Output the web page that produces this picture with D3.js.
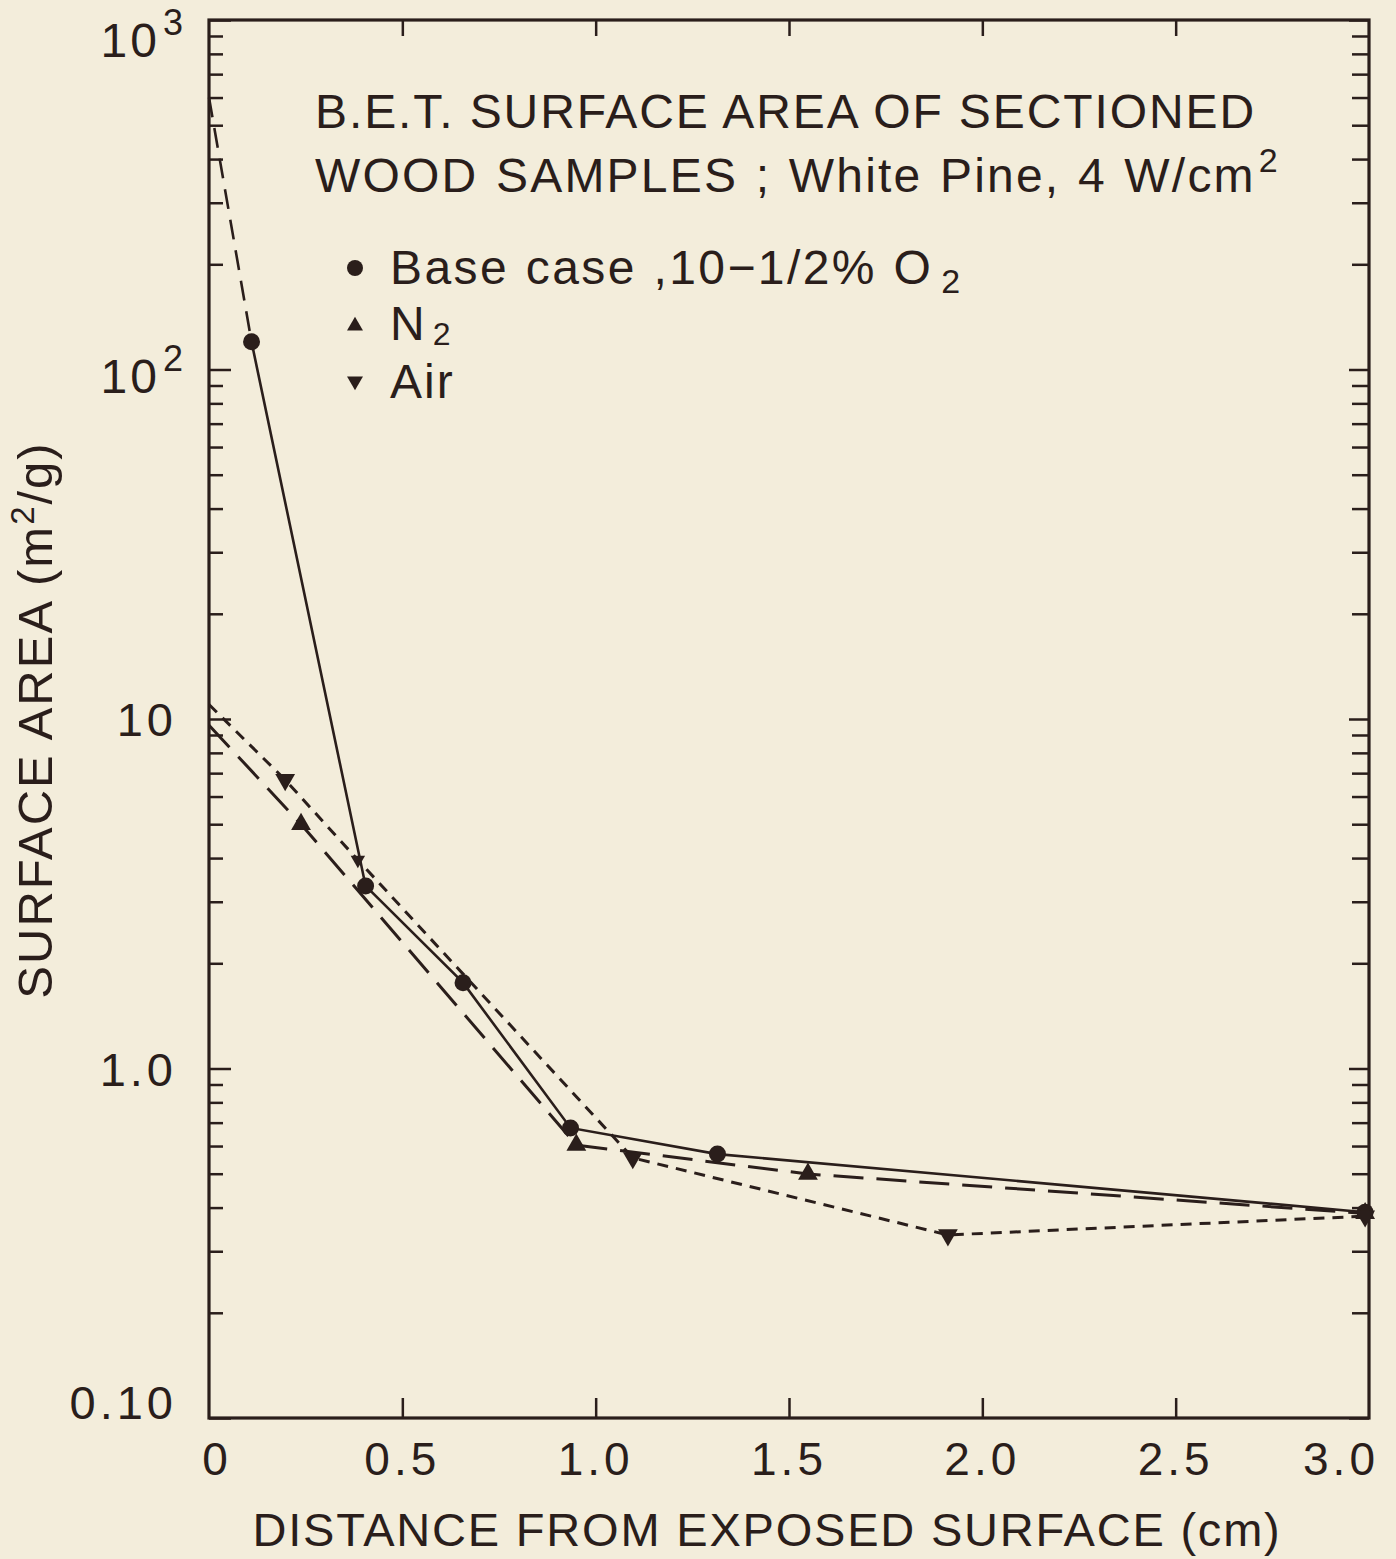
<!DOCTYPE html>
<html>
<head>
<meta charset="utf-8">
<script src="https://cdn.jsdelivr.net/npm/d3@7"></script>
<style>
html,body{margin:0;padding:0;background:#f3eddb;}
svg{display:block;}
text{font-family:"Liberation Sans",Arial,Helvetica,sans-serif;fill:#2a1e1b;}
</style>
</head>
<body>
<svg id="chart" width="1396" height="1559"></svg>
<script>
// ---------- data ----------
const baseX = [0.11, 0.405, 0.657, 0.935, 1.315, 2.99];
const baseY = [120, 3.33, 1.76, 0.676, 0.569, 0.388];
const baseSurfaceY = 600;           // dashed extrapolation to the exposed surface (x = 0)
const n2X = [0.238, 0.95, 1.549, 2.99];
const n2Y = [5.0, 0.604, 0.499, 0.385];
const n2SurfaceY = 9.6;
const airX = [0.197, 0.385, 1.096, 1.911, 2.99];
const airY = [6.7, 3.95, 0.555, 0.334, 0.378];
const airSurfaceY = 11;
const xTicks = [0, 0.5, 1.0, 1.5, 2.0, 2.5, 3.0];
const xTickLabels = ["0", "0.5", "1.0", "1.5", "2.0", "2.5", "3.0"];
const yMajor = [0.1, 1, 10, 100, 1000];
const yTickLabels = [["0.10", ""], ["1.0", ""], ["10", ""], ["10", "2"], ["10", "3"]];

// ---------- layout ----------
const ink = "#2a1e1b";
const L = 209, R = 1369, T = 20, B = 1418;
const svg = d3.select("#chart");
svg.append("rect").attr("width", 1396).attr("height", 1559).attr("fill", "#f3eddb");

const x = d3.scaleLinear().domain([0, 3]).range([L, R]);
const y = d3.scaleLog().domain([0.1, 1000]).range([B, T]);

const minor = [];
for (let e = -1; e < 3; e++) for (let k = 2; k <= 9; k++) minor.push(k * Math.pow(10, e));

const g = svg.append("g");

function styleAxis(sel) {
  sel.selectAll(".domain").remove();
  sel.selectAll("line").attr("stroke", ink).attr("stroke-width", 2.5);
  sel.selectAll("text").remove();
}
// left axis ticks (inward)
g.append("g").attr("transform", `translate(${L},0)`)
  .call(d3.axisLeft(y).tickValues(yMajor).tickSize(-22).tickFormat("")).call(styleAxis);
g.append("g").attr("transform", `translate(${L},0)`)
  .call(d3.axisLeft(y).tickValues(minor).tickSize(-14).tickFormat("")).call(styleAxis);
// right axis ticks (inward)
g.append("g").attr("transform", `translate(${R},0)`)
  .call(d3.axisRight(y).tickValues(yMajor).tickSize(-20).tickFormat("")).call(styleAxis);
g.append("g").attr("transform", `translate(${R},0)`)
  .call(d3.axisRight(y).tickValues(minor).tickSize(-17).tickFormat("")).call(styleAxis);
// top & bottom ticks (inward)
g.append("g").attr("transform", `translate(0,${T})`)
  .call(d3.axisTop(x).tickValues(xTicks.slice(1, -1)).tickSize(-16).tickFormat("")).call(styleAxis);
g.append("g").attr("transform", `translate(0,${B})`)
  .call(d3.axisBottom(x).tickValues(xTicks.slice(1, -1)).tickSize(-20).tickFormat("")).call(styleAxis);

// frame
g.append("rect").attr("x", L).attr("y", T).attr("width", R - L).attr("height", B - T)
  .attr("fill", "none").attr("stroke", ink).attr("stroke-width", 3.2);

// x tick labels
const xl = g.append("g");
xTicks.forEach((v, i) => {
  let dx = 0;
  if (i === 0) dx = 8;
  if (i === xTicks.length - 1) dx = -28;
  xl.append("text").attr("x", x(v) + dx).attr("y", 1475)
    .attr("text-anchor", "middle").attr("font-size", 46).attr("letter-spacing", 4)
    .text(xTickLabels[i]);
});

// y tick labels
yMajor.forEach((v, i) => {
  const [main, sup] = yTickLabels[i];
  let cy = y(v);
  if (i === 0) cy -= 16;
  if (sup) {
    const off = (i === yMajor.length - 1) ? 37 : 23;
    g.append("text").attr("x", 160).attr("y", cy + off).attr("text-anchor", "end")
      .attr("font-size", 48).attr("letter-spacing", 3).text(main);
    g.append("text").attr("x", 163).attr("y", cy + off - 22).attr("text-anchor", "start")
      .attr("font-size", 36).text(sup);
  } else {
    g.append("text").attr("x", 177).attr("y", cy + 17).attr("text-anchor", "end")
      .attr("font-size", 47).attr("letter-spacing", 4).text(main);
  }
});

// axis titles
g.append("text").attr("x", 767).attr("y", 1546).attr("text-anchor", "middle")
  .attr("font-size", 47).attr("letter-spacing", 1.8).text("DISTANCE FROM EXPOSED SURFACE (cm)");
const yt = g.append("text").attr("transform", "translate(52,720) rotate(-90)")
  .attr("text-anchor", "middle").attr("font-size", 49).attr("letter-spacing", 2);
yt.append("tspan").text("SURFACE AREA (m");
yt.append("tspan").attr("font-size", 33).attr("dy", -18).text("2");
yt.append("tspan").attr("dy", 18).text("/g)");

// title
g.append("text").attr("x", 315).attr("y", 128).attr("font-size", 48).attr("letter-spacing", 1.9)
  .text("B.E.T. SURFACE AREA OF SECTIONED");
const t2 = g.append("text").attr("x", 315).attr("y", 192).attr("font-size", 48)
  .attr("letter-spacing", 2.2).attr("word-spacing", 2);
t2.append("tspan").text("WOOD SAMPLES ; White Pine, 4 W/cm");
t2.append("tspan").attr("font-size", 34).attr("dy", -20).attr("dx", 3).text("2");

// legend
const lg = g.append("g");
lg.append("circle").attr("cx", 355).attr("cy", 268).attr("r", 8).attr("fill", ink);
lg.append("path").attr("d", d3.symbol(d3.symbolTriangle, 110)()).attr("transform", "translate(355,326)").attr("fill", ink);
lg.append("path").attr("d", d3.symbol(d3.symbolTriangle, 110)()).attr("transform", "translate(355,381) rotate(180)").attr("fill", ink);
const l1 = lg.append("text").attr("x", 390).attr("y", 284).attr("font-size", 48)
  .attr("letter-spacing", 2.4).attr("word-spacing", 1);
l1.append("tspan").text("Base case ,10\u22121/2% O");
l1.append("tspan").attr("font-size", 34).attr("dy", 9).attr("dx", 8).text("2");
const l2 = lg.append("text").attr("x", 390).attr("y", 340).attr("font-size", 48).attr("letter-spacing", 2);
l2.append("tspan").text("N");
l2.append("tspan").attr("font-size", 32).attr("dy", 5).attr("dx", 6).text("2");
lg.append("text").attr("x", 390).attr("y", 398).attr("font-size", 48).attr("letter-spacing", 2).text("Air");

// ---------- series ----------
const line = d3.line().x(d => x(d[0])).y(d => y(d[1]));
const zip = (a, b) => a.map((v, i) => [v, b[i]]);
const base = zip(baseX, baseY), n2 = zip(n2X, n2Y), air = zip(airX, airY);

const lines = g.append("g").attr("fill", "none").attr("stroke", ink);
// surface extrapolations
lines.append("path").attr("d", line([[0, baseSurfaceY], base[0]]))
  .attr("stroke-width", 2.6).attr("stroke-dasharray", "20 11");
lines.append("path").attr("d", line([[0, n2SurfaceY]].concat(n2)))
  .attr("stroke-width", 3).attr("stroke-dasharray", "30 13");
lines.append("path").attr("d", line([[0, airSurfaceY]].concat(air)))
  .attr("stroke-width", 3).attr("stroke-dasharray", "11 8");
lines.append("path").attr("d", line(base)).attr("stroke-width", 2.6);

// markers
const mk = g.append("g").attr("fill", ink);
mk.selectAll("circle").data(base).join("circle")
  .attr("cx", d => x(d[0])).attr("cy", d => y(d[1])).attr("r", 8.5);
mk.selectAll("path.up").data(n2).join("path").attr("class", "up")
  .attr("d", d3.symbol(d3.symbolTriangle, 170)())
  .attr("transform", d => `translate(${x(d[0])},${y(d[1])})`);
mk.selectAll("path.dn").data(air).join("path").attr("class", "dn")
  .attr("d", (d, i) => d3.symbol(d3.symbolTriangle, i === 1 ? 90 : 170)())
  .attr("transform", d => `translate(${x(d[0])},${y(d[1])}) rotate(180)`);
</script>
</body>
</html>
